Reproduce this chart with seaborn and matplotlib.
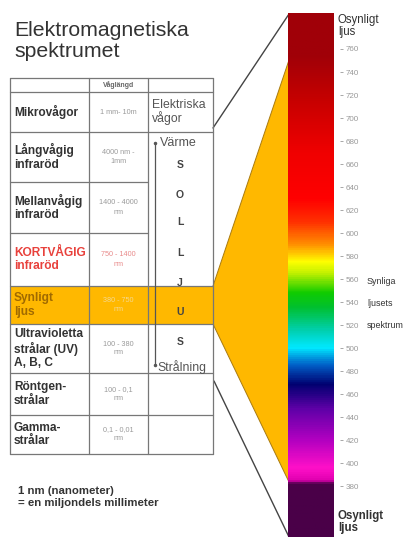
import numpy as np
import seaborn as sns
import matplotlib.pyplot as plt
from matplotlib.colors import LinearSegmentedColormap
from matplotlib.patches import Polygon, Rectangle

# table content
row_names = ["Mikrovågor", "Långvågig\ninfraröd", "Mellanvågig\ninfraröd",
             "KORTVÅGIG\ninfraröd", "Synligt\nljus",
             "Ultravioletta\nstrålar (UV)\nA, B, C", "Röntgen-\nstrålar",
             "Gamma-\nstrålar"]
wave_ranges = ["1 mm- 10m", "4000 nm -\n1mm", "1400 - 4000\nnm", "750 - 1400\nnm",
               "380 - 750\nnm", "100 - 380\nnm", "100 - 0,1\nnm", "0,1 - 0,01\nnm"]
sol_letters = ["S", "O", "L", "L", "J", "U", "S"]

# spectrum (wavelength in nm)
wl_ticks = [760, 740, 720, 700, 680, 660, 640, 620, 600, 580,
            560, 540, 520, 500, 480, 460, 440, 420, 400, 380]
spec_wl = [335, 381, 384, 395, 420, 446, 468, 485, 500, 515, 535, 548,
           565, 575, 590, 610, 630, 670, 715, 755, 792]
spec_col = ["#4a0048", "#4a0048", "#e000b0", "#ff10c8", "#b000c0", "#6000a8",
            "#000070", "#0060c8", "#00e8ff", "#00d0b0", "#00c030", "#10cc00",
            "#c0f000", "#ffff00", "#ff9000", "#ff3000", "#ff0000", "#f00000",
            "#c80000", "#a00008", "#a00008"]
wl_min, wl_max = 335.7, 791.3

sns.set_theme(style="white")
plt.rcParams['font.family'] = ['Liberation Sans', 'DejaVu Sans']

fig = plt.figure(figsize=(4.06, 5.37), dpi=100)
ax = fig.add_axes([0, 0, 1, 1])
ax.set_xlim(0, 406)
ax.set_ylim(537, 0)
ax.axis("off")

# title
ax.text(14, 41, "Elektromagnetiska\nspektrumet", fontsize=15.3, color="#333333",
        ha="left", va="center", linespacing=1.08)

# table layout
row_top = [92, 132, 182, 233, 286, 324, 373, 415]
row_bot = [132, 182, 233, 286, 324, 373, 415, 454]
col_x = [10, 89, 148, 213]
orange = "#FFB800"

# orange wedge towards the spectrum
ax.add_patch(Polygon([(213, 286), (289, 60), (289, 482), (213, 324)],
                     closed=True, facecolor=orange, edgecolor="#a87a10", lw=0.7, zorder=1))
ax.add_patch(Rectangle((10, 286), 203, 38, facecolor=orange, edgecolor="none", zorder=1))

# black guide lines
ax.plot([213, 289], [128, 14], color="#444444", lw=1)
ax.plot([214, 289], [381, 537], color="#444444", lw=1)

line_c = "#777777"
for y in [78, 92, 132, 286, 324, 373, 415, 454]:
    ax.plot([10, 213], [y, y], color=line_c, lw=0.9, zorder=2)
for y in [182, 233]:
    ax.plot([10, 148], [y, y], color=line_c, lw=0.9, zorder=2)
for x in col_x:
    ax.plot([x, x], [78, 454], color=line_c, lw=0.9, zorder=2)

ax.text(118.5, 85, "Våglängd", fontsize=5, fontweight="bold", color="#666666",
        ha="center", va="center")

for name, rng, top, bot in zip(row_names, wave_ranges, row_top, row_bot):
    yc = (top + bot) / 2
    name_c, rng_c = "#333333", "#9a9a9a"
    if name.startswith("KORT"):
        name_c, rng_c = "#e8413c", "#e88a8a"
    if name.startswith("Synligt"):
        name_c, rng_c = "#a06a00", "#f5d890"
    ax.text(14, yc, name, fontsize=8.6, fontweight="bold", color=name_c,
            ha="left", va="center", linespacing=1.12, zorder=3)
    ax.text(118.5, yc, rng, fontsize=5.2, color=rng_c, ha="center", va="center",
            linespacing=1.4, zorder=3)

# third column
ax.text(152, 112, "Elektriska\nvågor", fontsize=8.8, color="#555555", ha="left",
        va="center", linespacing=1.0)
ax.plot([155, 155], [143, 365], color="#555555", lw=0.9, marker="o", ms=1.5, zorder=3)
ax.text(160, 143, "Värme", fontsize=9, color="#555555", ha="left", va="center")
ax.text(157, 367, "Strålning", fontsize=8.8, color="#555555", ha="left", va="center")
for letter, y in zip(sol_letters, [165, 195, 222, 253, 283, 312, 342]):
    ax.text(180, y, letter, fontsize=7.5, fontweight="bold", color="#444444",
            ha="center", va="center", zorder=3)

# footnote
ax.text(18, 497, "1 nm (nanometer)\n= en miljondels millimeter", fontsize=8.2,
        fontweight="bold", color="#333333", ha="left", va="center", linespacing=1.25)

# right-hand labels
ax.text(338, 26, "Osynligt\nljus", fontsize=8.3, color="#333333", ha="left", va="center",
        linespacing=1.05, zorder=5)
ax.text(338, 522, "Osynligt\nljus", fontsize=8.3, fontweight="bold", color="#333333",
        ha="left", va="center", linespacing=1.05, zorder=5)
for word, y in zip(["Synliga", "ljusets", "spektrum"], [281, 303, 326]):
    ax.text(367, y, word, fontsize=6.4, color="#333333", ha="left", va="center")

# spectrum bar
sax = fig.add_axes([288 / 406, 0, 52 / 406, (537 - 13) / 537])
sax.patch.set_alpha(0)
lo, hi = spec_wl[0], spec_wl[-1]
cmap = LinearSegmentedColormap.from_list(
    "spec", [((w - lo) / (hi - lo), c) for w, c in zip(spec_wl, spec_col)])
grid = np.linspace(wl_min, wl_max, 800).reshape(-1, 1)
sax.imshow(grid, cmap=cmap, vmin=lo, vmax=hi, aspect="auto", origin="lower",
           extent=[0, 45, wl_min, wl_max])
sax.set_xlim(0, 52)
sax.set_ylim(wl_min, wl_max)
sax.set_xticks([])
sax.set_yticks(wl_ticks)
sax.set_yticklabels([str(t) for t in wl_ticks])
sax.yaxis.tick_right()
sax.tick_params(axis="y", right=True, left=False, length=2.2, width=0.6,
                colors="#999999", labelsize=5.8, pad=2.2)
sns.despine(ax=sax, left=True, bottom=True, top=True, right=True)

plt.savefig("out.png", dpi=100)
